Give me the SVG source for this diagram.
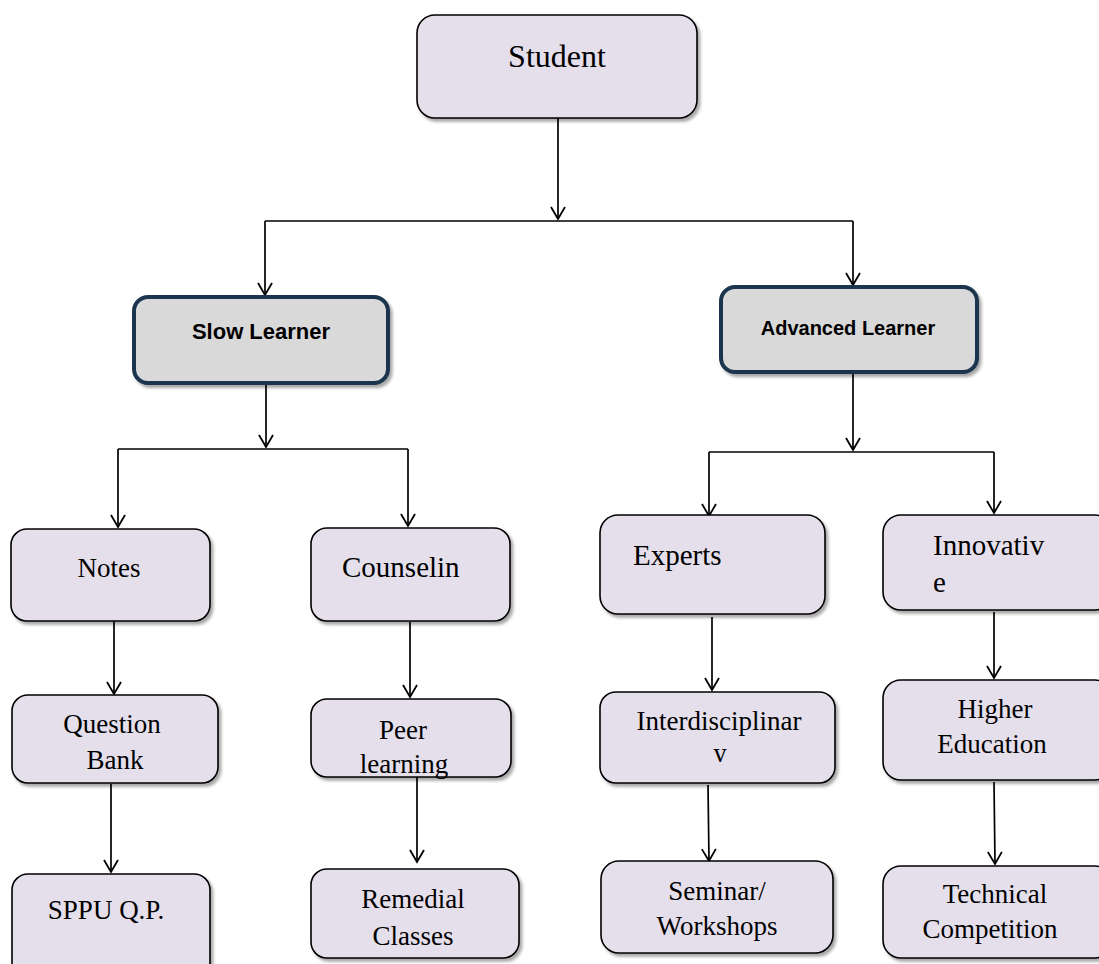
<svg xmlns="http://www.w3.org/2000/svg" width="1099" height="964" viewBox="0 0 1099 964">
<defs>
<marker id="arr" viewBox="-13 -8 15 16" refX="0" refY="0" markerWidth="15" markerHeight="16" markerUnits="userSpaceOnUse" orient="auto">
<path d="M-12,-7 L0,0 L-12,7" fill="none" stroke="#000" stroke-width="1.8"/>
</marker>
<filter id="sh" x="-10%" y="-10%" width="125%" height="130%">
<feDropShadow dx="2.5" dy="3" stdDeviation="1.5" flood-color="#000" flood-opacity="0.35"/>
</filter>
<clipPath id="clipY"><rect x="600" y="740" width="236" height="22"/></clipPath>
</defs>
<style>
.box{fill:#e5dfec;stroke:#000;stroke-width:1.6;filter:url(#sh)}
.lvl{fill:#d9d9d9;stroke:#1f3550;stroke-width:4;filter:url(#sh)}
.t{font-family:"Liberation Serif","Times New Roman",serif;fill:#000;text-anchor:middle}
.s{font-family:"Liberation Serif","Times New Roman",serif;fill:#000;text-anchor:start}
.b{font-family:"Liberation Sans",Arial,sans-serif;font-weight:bold;fill:#000;text-anchor:middle}
.c{fill:none;stroke:#000;stroke-width:1.7}
.ca{fill:none;stroke:#000;stroke-width:1.7;marker-end:url(#arr)}
</style>
<rect width="1099" height="964" fill="#fff"/>
<g id="connectors">
<path class="ca" d="M558,118 V219"/>
<path class="c" d="M265,221 H853"/>
<path class="ca" d="M265,221 V295"/>
<path class="ca" d="M853,221 V285"/>
<path class="ca" d="M266,384 V447"/>
<path class="c" d="M118,449 H408"/>
<path class="ca" d="M118,449 V527"/>
<path class="ca" d="M408,449 V526"/>
<path class="ca" d="M853,373 V450"/>
<path class="c" d="M709,452 H994"/>
<path class="ca" d="M709,452 V516"/>
<path class="ca" d="M994,452 V513"/>
<path class="ca" d="M114,621 V694"/>
<path class="ca" d="M410,622 V697"/>
<path class="ca" d="M111,784 V872"/>
<path class="ca" d="M417,772 V862"/>
<path class="ca" d="M712,617 V690"/>
<path class="ca" d="M708,785 L709,861"/>
<path class="ca" d="M994,612 V678"/>
<path class="ca" d="M994,782 L995,864"/>
</g>
<g id="student"><rect class="box" x="417" y="15" width="280" height="103" rx="18"/><text class="t" x="557" y="67" font-size="32">Student</text></g>
<g id="slow-learner"><rect class="lvl" x="134" y="297" width="254" height="86" rx="14"/><text class="b" x="261" y="339" font-size="22">Slow Learner</text></g>
<g id="advanced-learner"><rect class="lvl" x="721" y="287" width="256" height="85" rx="14"/><text class="b" x="848" y="335" font-size="20">Advanced Learner</text></g>
<g id="notes"><rect class="box" x="11" y="529" width="199" height="92" rx="16"/><text class="t" x="109" y="577" font-size="27">Notes</text></g>
<g id="counseling"><rect class="box" x="311" y="528" width="199" height="93" rx="16"/><text class="s" x="342" y="577" font-size="29">Counselin</text></g>
<g id="question-bank"><rect class="box" x="12" y="695" width="206" height="88" rx="16"/><text class="t" x="112" y="733" font-size="27">Question</text><text class="t" x="115" y="769" font-size="27">Bank</text></g>
<g id="peer-learning"><rect class="box" x="311" y="699" width="200" height="78" rx="16"/><text class="t" x="403" y="739" font-size="27">Peer</text><text class="t" x="404" y="773" font-size="27">learning</text></g>
<g id="sppu"><rect class="box" x="12" y="874" width="198" height="110" rx="16"/><text class="t" x="106" y="919" font-size="27">SPPU Q.P.</text></g>
<g id="remedial"><rect class="box" x="311" y="869" width="208" height="89" rx="16"/><text class="t" x="413" y="908" font-size="27">Remedial</text><text class="t" x="413" y="945" font-size="27">Classes</text></g>
<g id="experts"><rect class="box" x="600" y="515" width="225" height="99" rx="18"/><text class="s" x="633" y="565" font-size="29">Experts</text></g>
<g id="innovative"><rect class="box" x="883" y="515" width="230" height="95" rx="18"/><text class="s" x="933" y="555" font-size="29">Innovativ</text><text class="s" x="933" y="592" font-size="29">e</text></g>
<g id="interdisciplinary"><rect class="box" x="600" y="692" width="235" height="91" rx="16"/><text class="t" x="719" y="730" font-size="27">Interdisciplinar</text><text class="t" x="720" y="762" font-size="27" clip-path="url(#clipY)">y</text></g>
<g id="higher-education"><rect class="box" x="883" y="680" width="230" height="100" rx="18"/><text class="t" x="995" y="718" font-size="27">Higher</text><text class="t" x="992" y="753" font-size="27">Education</text></g>
<g id="seminar"><rect class="box" x="601" y="861" width="232" height="92" rx="18"/><text class="t" x="717" y="900" font-size="27">Seminar/</text><text class="t" x="717" y="935" font-size="27">Workshops</text></g>
<g id="technical"><rect class="box" x="883" y="866" width="230" height="92" rx="18"/><text class="t" x="995" y="903" font-size="27">Technical</text><text class="t" x="990" y="938" font-size="27">Competition</text></g>
</svg>
